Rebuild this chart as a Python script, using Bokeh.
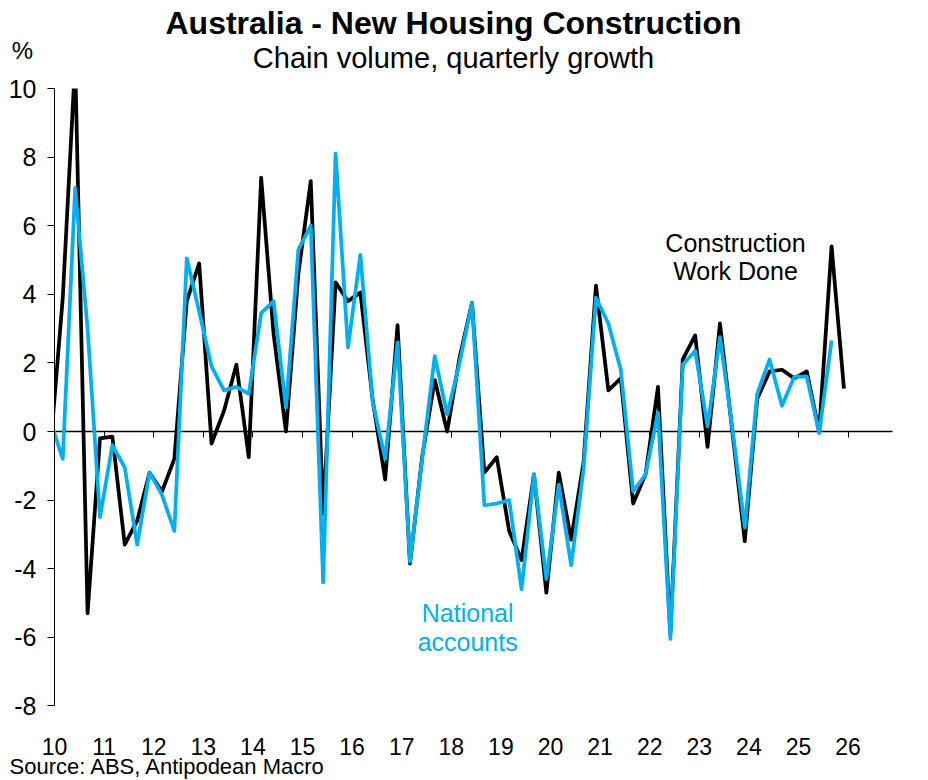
import pandas as pd

from bokeh.plotting import figure
from bokeh.models import Range1d, FixedTicker, Label, LinearAxis, BoxAnnotation
from bokeh.embed import file_html
from bokeh.resources import INLINE

FONT = "Liberation Sans"
BLACK = "#000000"
BLUE = "#00B0F0"

# quarterly growth, %, first point (2009Q4) sits just left of the axis
quarters = pd.period_range("2009Q4", "2025Q4", freq="Q")

work_done = [
    -0.5,
    3.9, 10.8, -5.3, -0.2,
    -0.15, -3.3, -2.6, -1.2,
    -1.75, -0.8, 3.8, 4.9,
    -0.35, 0.6, 1.95, -0.75,
    7.4, 2.85, 0.0, 4.6,
    7.3, -2.4, 4.35, 3.8,
    4.05, 0.9, -1.4, 3.1,
    -3.85, -0.7, 1.5, 0.0,
    2.15, 3.75, -1.2, -0.75,
    -2.9, -3.75, -1.25, -4.7,
    -1.2, -3.15, -0.9, 4.25,
    1.2, 1.55, -2.1, -1.25,
    1.3, -5.9, 2.1, 2.8,
    -0.45, 3.15, 0.0, -3.2,
    0.95, 1.75, 1.8, 1.55,
    1.75, 0.0, 5.4, 1.25,
]

national_accounts = [
    0.3,
    -0.8, 7.1, 3.0, -2.5,
    -0.4, -1.05, -3.3, -1.2,
    -1.85, -2.9, 5.05, 3.5,
    1.9, 1.2, 1.3, 1.1,
    3.45, 3.8, 0.7, 5.3,
    6.0, -4.4, 8.1, 2.45,
    5.15, 0.85, -0.8, 2.6,
    -3.8, -0.75, 2.2, 0.5,
    2.0, 3.75, -2.15, -2.1,
    -2.0, -4.6, -1.25, -4.3,
    -1.55, -3.9, -1.1, 3.9,
    3.15, 1.8, -1.75, -1.25,
    0.55, -6.05, 1.95, 2.35,
    0.15, 2.75, 0.1, -2.8,
    1.1, 2.1, 0.75, 1.6,
    1.6, -0.05, 2.65,
]

years = list(range(2010, 2027))
year_labels = {y: str(y)[2:] for y in years}
y_ticks = list(range(-8, 11, 2))
y_labels = {v: str(v) for v in y_ticks}

X_MIN, X_MAX = 2010, 2026.9
Y_MIN, Y_MAX = -8, 10

# month of quarter end placed on a fractional-year axis
x = [q.year + (q.quarter * 3 - 1) / 12 for q in quarters]

W, H = 928, 780
# the frame covers the whole canvas so that the texts around the chart are not clipped;
# the axes are pinned with fixed_location
p = figure(
    width=W,
    height=H,
    x_range=Range1d(X_MIN - 54 / 49.6, X_MIN + (W - 54) / 49.6),
    y_range=Range1d((431 - H) / 34.3, 431 / 34.3),
    output_backend="svg",
    toolbar_location=None,
    title=None,
    min_border=0,
)
p.outline_line_color = None
p.grid.visible = False

# zero line with the year ticks hanging below it
zx = p.xaxis[0]
zx.fixed_location = 0
zx.bounds = (X_MIN, X_MAX)
zx.ticker = FixedTicker(ticks=years[1:])
zx.major_label_overrides = {y: "" for y in years}
zx.axis_line_color = BLACK
zx.axis_line_width = 1.5
zx.major_tick_line_color = BLACK
zx.major_tick_out = 6
zx.major_tick_in = 0
zx.minor_tick_line_color = None
zx.level = "underlay"

# year labels under the frame
lx = LinearAxis(
    fixed_location=Y_MIN,
    ticker=FixedTicker(ticks=years),
    major_label_overrides=year_labels,
    axis_line_color=None,
    major_tick_line_color=None,
    minor_tick_line_color=None,
    major_label_standoff=26,
    major_label_text_font=FONT,
    major_label_text_font_size="23px",
    major_label_text_color=BLACK,
    level="overlay",
)
p.add_layout(lx, "below")

ya = p.yaxis[0]
ya.fixed_location = X_MIN
ya.bounds = (Y_MIN, Y_MAX)
ya.ticker = FixedTicker(ticks=y_ticks)
ya.major_label_overrides = y_labels
ya.axis_line_color = BLACK
ya.axis_line_width = 1
ya.major_tick_line_color = BLACK
ya.major_tick_out = 7
ya.major_tick_in = 0
ya.minor_tick_line_color = None
ya.major_label_standoff = 11
ya.major_label_text_font = FONT
ya.major_label_text_font_size = "25px"
ya.major_label_text_color = BLACK
ya.level = "overlay"

p.line(x, work_done, line_color=BLACK, line_width=3.75, line_join="round")
p.line(x[:len(national_accounts)], national_accounts, line_color=BLUE,
       line_width=3.75, line_join="round")

# white masks stand in for the clipping of the original plot area
p.add_layout(BoxAnnotation(bottom=Y_MAX, left=X_MIN, fill_color="white",
                           fill_alpha=1, line_alpha=0))
p.add_layout(BoxAnnotation(right=X_MIN, fill_color="white", fill_alpha=1,
                           line_alpha=0))

# series labels
for text, yy in [("Construction", 5.5), ("Work Done", 4.68)]:
    p.add_layout(Label(x=2023.73, y=yy, text=text, text_align="center",
                       text_baseline="middle", text_font=FONT,
                       text_font_size="25px", text_color=BLACK))
for text, yy in [("National", -5.29), ("accounts", -6.14)]:
    p.add_layout(Label(x=2018.33, y=yy, text=text, text_align="center",
                       text_baseline="middle", text_font=FONT,
                       text_font_size="25px", text_color=BLUE))

# titles and notes, screen units from the canvas' lower-left
p.add_layout(Label(x=453, y=H - 22, x_units="screen", y_units="screen",
                   text="Australia - New Housing Construction",
                   text_align="center", text_baseline="middle",
                   text_font=FONT, text_font_style="bold",
                   text_font_size="32px", text_color=BLACK))
p.add_layout(Label(x=453, y=H - 57, x_units="screen", y_units="screen",
                   text="Chain volume, quarterly growth",
                   text_align="center", text_baseline="middle",
                   text_font=FONT, text_font_size="29px", text_color=BLACK))
p.add_layout(Label(x=22, y=H - 50, x_units="screen", y_units="screen",
                   text="%", text_align="center", text_baseline="middle",
                   text_font=FONT, text_font_size="24px", text_color=BLACK))
p.add_layout(Label(x=9, y=H - 766, x_units="screen", y_units="screen",
                   text="Source: ABS, Antipodean Macro", text_align="left",
                   text_baseline="middle", text_font=FONT,
                   text_font_size="22px", text_color=BLACK))

open("out.html", "w").write(file_html(p, INLINE))
